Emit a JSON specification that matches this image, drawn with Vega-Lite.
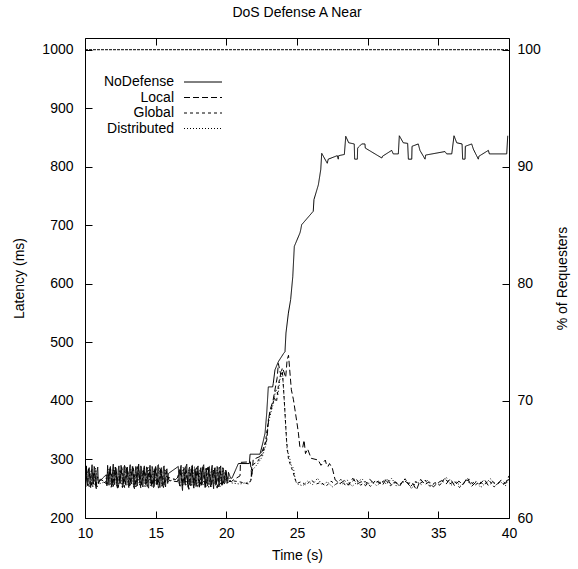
{
"$schema":"https://vega.github.io/schema/vega-lite/v6.json",
"autosize":{"type":"none"},
"padding":{"left":85,"top":38,"right":69,"bottom":51},
"width":424,"height":480,
"title":{"text":"DoS Defense A Near","fontSize":14,"fontWeight":"normal","font":"Liberation Sans","offset":18,"anchor":"middle","color":"black"},
"config":{"view":{"stroke":null},"axis":{"grid":false,"labelFontSize":14,"titleFontSize":14,"titleFontWeight":"normal","labelColor":"black","titleColor":"black","domainColor":"black","tickColor":"black","tickSize":-7,"labelFont":"Liberation Sans","titleFont":"Liberation Sans","labelFlush":false,"format":"d"}},
"datasets":{
"lat":[
{"s":"NoDefense","t":10.0,"v":268},{"s":"NoDefense","t":10.05,"v":253},{"s":"NoDefense","t":10.1,"v":289},{"s":"NoDefense","t":10.15,"v":260},{"s":"NoDefense","t":10.2,"v":255},{"s":"NoDefense","t":10.25,"v":281},{"s":"NoDefense","t":10.3,"v":286},{"s":"NoDefense","t":10.35,"v":262},{"s":"NoDefense","t":10.4,"v":252},{"s":"NoDefense","t":10.45,"v":278},{"s":"NoDefense","t":10.5,"v":291},{"s":"NoDefense","t":10.55,"v":257},{"s":"NoDefense","t":10.6,"v":258},{"s":"NoDefense","t":10.65,"v":288},{"s":"NoDefense","t":10.7,"v":284},{"s":"NoDefense","t":10.75,"v":254},{"s":"NoDefense","t":10.8,"v":250},{"s":"NoDefense","t":10.85,"v":279},{"s":"NoDefense","t":10.9,"v":287},{"s":"NoDefense","t":10.95,"v":259},{"s":"NoDefense","t":11.0,"v":262},
{"s":"NoDefense","t":11.5,"v":274},{"s":"NoDefense","t":11.55,"v":255},{"s":"NoDefense","t":11.6,"v":290},{"s":"NoDefense","t":11.65,"v":266},{"s":"NoDefense","t":11.7,"v":256},{"s":"NoDefense","t":11.75,"v":284},{"s":"NoDefense","t":11.8,"v":288},{"s":"NoDefense","t":11.85,"v":258},{"s":"NoDefense","t":11.9,"v":253},{"s":"NoDefense","t":11.95,"v":280},{"s":"NoDefense","t":12.0,"v":292},{"s":"NoDefense","t":12.05,"v":261},{"s":"NoDefense","t":12.1,"v":257},{"s":"NoDefense","t":12.15,"v":287},{"s":"NoDefense","t":12.2,"v":285},{"s":"NoDefense","t":12.25,"v":255},{"s":"NoDefense","t":12.3,"v":251},{"s":"NoDefense","t":12.35,"v":282},{"s":"NoDefense","t":12.4,"v":289},{"s":"NoDefense","t":12.45,"v":263},{"s":"NoDefense","t":12.5,"v":259},{"s":"NoDefense","t":12.55,"v":290},{"s":"NoDefense","t":12.6,"v":283},{"s":"NoDefense","t":12.65,"v":252},{"s":"NoDefense","t":12.7,"v":254},{"s":"NoDefense","t":12.75,"v":286},{"s":"NoDefense","t":12.8,"v":290},{"s":"NoDefense","t":12.85,"v":260},{"s":"NoDefense","t":12.9,"v":256},{"s":"NoDefense","t":12.95,"v":281},{"s":"NoDefense","t":13.0,"v":287},{"s":"NoDefense","t":13.05,"v":258},{"s":"NoDefense","t":13.1,"v":252},{"s":"NoDefense","t":13.15,"v":285},{"s":"NoDefense","t":13.2,"v":291},{"s":"NoDefense","t":13.25,"v":262},{"s":"NoDefense","t":13.3,"v":258},{"s":"NoDefense","t":13.35,"v":288},{"s":"NoDefense","t":13.4,"v":284},{"s":"NoDefense","t":13.45,"v":253},{"s":"NoDefense","t":13.5,"v":250},{"s":"NoDefense","t":13.55,"v":279},{"s":"NoDefense","t":13.6,"v":288},{"s":"NoDefense","t":13.65,"v":259},{"s":"NoDefense","t":13.7,"v":255},{"s":"NoDefense","t":13.75,"v":286},{"s":"NoDefense","t":13.8,"v":292},{"s":"NoDefense","t":13.85,"v":264},{"s":"NoDefense","t":13.9,"v":260},{"s":"NoDefense","t":13.95,"v":289},{"s":"NoDefense","t":14.0,"v":285},{"s":"NoDefense","t":14.05,"v":256},{"s":"NoDefense","t":14.1,"v":253},{"s":"NoDefense","t":14.15,"v":283},{"s":"NoDefense","t":14.2,"v":289},{"s":"NoDefense","t":14.25,"v":261},{"s":"NoDefense","t":14.3,"v":257},{"s":"NoDefense","t":14.35,"v":287},{"s":"NoDefense","t":14.4,"v":286},{"s":"NoDefense","t":14.45,"v":254},{"s":"NoDefense","t":14.5,"v":251},{"s":"NoDefense","t":14.55,"v":280},{"s":"NoDefense","t":14.6,"v":290},{"s":"NoDefense","t":14.65,"v":262},{"s":"NoDefense","t":14.7,"v":256},{"s":"NoDefense","t":14.75,"v":288},{"s":"NoDefense","t":14.8,"v":283},{"s":"NoDefense","t":14.85,"v":252},{"s":"NoDefense","t":14.9,"v":254},{"s":"NoDefense","t":14.95,"v":284},{"s":"NoDefense","t":15.0,"v":288},{"s":"NoDefense","t":15.05,"v":257},{"s":"NoDefense","t":15.1,"v":259},{"s":"NoDefense","t":15.15,"v":290},{"s":"NoDefense","t":15.2,"v":291},{"s":"NoDefense","t":15.25,"v":260},{"s":"NoDefense","t":15.3,"v":252},{"s":"NoDefense","t":15.35,"v":281},{"s":"NoDefense","t":15.4,"v":286},{"s":"NoDefense","t":15.45,"v":255},{"s":"NoDefense","t":15.5,"v":257},{"s":"NoDefense","t":15.55,"v":287},{"s":"NoDefense","t":15.6,"v":289},{"s":"NoDefense","t":15.65,"v":258},{"s":"NoDefense","t":15.7,"v":253},{"s":"NoDefense","t":15.75,"v":282},{"s":"NoDefense","t":15.8,"v":284},{"s":"NoDefense","t":15.85,"v":259},{"s":"NoDefense","t":15.9,"v":276},
{"s":"NoDefense","t":16.6,"v":288},{"s":"NoDefense","t":16.65,"v":262},{"s":"NoDefense","t":16.7,"v":255},{"s":"NoDefense","t":16.75,"v":284},{"s":"NoDefense","t":16.8,"v":290},{"s":"NoDefense","t":16.85,"v":258},{"s":"NoDefense","t":16.9,"v":247},{"s":"NoDefense","t":16.95,"v":280},{"s":"NoDefense","t":17.0,"v":285},{"s":"NoDefense","t":17.05,"v":260},{"s":"NoDefense","t":17.1,"v":256},{"s":"NoDefense","t":17.15,"v":288},{"s":"NoDefense","t":17.2,"v":292},{"s":"NoDefense","t":17.25,"v":261},{"s":"NoDefense","t":17.3,"v":253},{"s":"NoDefense","t":17.35,"v":283},{"s":"NoDefense","t":17.4,"v":287},{"s":"NoDefense","t":17.45,"v":255},{"s":"NoDefense","t":17.5,"v":258},{"s":"NoDefense","t":17.55,"v":289},{"s":"NoDefense","t":17.6,"v":290},{"s":"NoDefense","t":17.65,"v":259},{"s":"NoDefense","t":17.7,"v":251},{"s":"NoDefense","t":17.75,"v":281},{"s":"NoDefense","t":17.8,"v":284},{"s":"NoDefense","t":17.85,"v":254},{"s":"NoDefense","t":17.9,"v":256},{"s":"NoDefense","t":17.95,"v":286},{"s":"NoDefense","t":18.0,"v":289},{"s":"NoDefense","t":18.05,"v":262},{"s":"NoDefense","t":18.1,"v":253},{"s":"NoDefense","t":18.15,"v":282},{"s":"NoDefense","t":18.2,"v":286},{"s":"NoDefense","t":18.25,"v":256},{"s":"NoDefense","t":18.3,"v":259},{"s":"NoDefense","t":18.35,"v":288},{"s":"NoDefense","t":18.4,"v":291},{"s":"NoDefense","t":18.45,"v":263},{"s":"NoDefense","t":18.5,"v":252},{"s":"NoDefense","t":18.55,"v":280},{"s":"NoDefense","t":18.6,"v":285},{"s":"NoDefense","t":18.65,"v":255},{"s":"NoDefense","t":18.7,"v":257},{"s":"NoDefense","t":18.75,"v":287},{"s":"NoDefense","t":18.8,"v":288},{"s":"NoDefense","t":18.85,"v":258},{"s":"NoDefense","t":18.9,"v":254},{"s":"NoDefense","t":18.95,"v":284},{"s":"NoDefense","t":19.0,"v":290},{"s":"NoDefense","t":19.05,"v":261},{"s":"NoDefense","t":19.1,"v":250},{"s":"NoDefense","t":19.15,"v":279},{"s":"NoDefense","t":19.2,"v":286},{"s":"NoDefense","t":19.25,"v":256},{"s":"NoDefense","t":19.3,"v":258},{"s":"NoDefense","t":19.35,"v":288},{"s":"NoDefense","t":19.4,"v":283},{"s":"NoDefense","t":19.45,"v":253},{"s":"NoDefense","t":19.5,"v":255},{"s":"NoDefense","t":19.55,"v":285},{"s":"NoDefense","t":19.6,"v":289},{"s":"NoDefense","t":19.65,"v":260},{"s":"NoDefense","t":19.7,"v":257},{"s":"NoDefense","t":19.75,"v":286},{"s":"NoDefense","t":19.8,"v":284},{"s":"NoDefense","t":19.85,"v":258},{"s":"NoDefense","t":19.9,"v":260},{"s":"NoDefense","t":19.95,"v":282},{"s":"NoDefense","t":20.0,"v":280},{"s":"NoDefense","t":20.05,"v":259},{"s":"NoDefense","t":20.1,"v":262},{"s":"NoDefense","t":20.15,"v":278},{"s":"NoDefense","t":20.2,"v":275},{"s":"NoDefense","t":20.3,"v":268},
{"s":"NoDefense","t":20.4,"v":268},{"s":"NoDefense","t":20.85,"v":293},{"s":"NoDefense","t":21.63,"v":293},{"s":"NoDefense","t":21.68,"v":309},{"s":"NoDefense","t":22.38,"v":309},{"s":"NoDefense","t":22.6,"v":330},{"s":"NoDefense","t":22.74,"v":345},{"s":"NoDefense","t":22.86,"v":380},{"s":"NoDefense","t":22.97,"v":424},{"s":"NoDefense","t":23.28,"v":424},{"s":"NoDefense","t":23.32,"v":430},{"s":"NoDefense","t":23.44,"v":453},{"s":"NoDefense","t":23.68,"v":467},{"s":"NoDefense","t":24.05,"v":481},{"s":"NoDefense","t":24.15,"v":484},{"s":"NoDefense","t":24.22,"v":516},{"s":"NoDefense","t":24.39,"v":550},{"s":"NoDefense","t":24.55,"v":573},{"s":"NoDefense","t":24.7,"v":612},{"s":"NoDefense","t":24.81,"v":664},{"s":"NoDefense","t":25.21,"v":687},{"s":"NoDefense","t":25.26,"v":692},{"s":"NoDefense","t":25.33,"v":701},{"s":"NoDefense","t":26.15,"v":724},{"s":"NoDefense","t":26.2,"v":744},{"s":"NoDefense","t":26.51,"v":769},{"s":"NoDefense","t":26.68,"v":795},{"s":"NoDefense","t":26.75,"v":823},{"s":"NoDefense","t":27.14,"v":806},{"s":"NoDefense","t":27.21,"v":813},{"s":"NoDefense","t":27.85,"v":819},{"s":"NoDefense","t":27.92,"v":813},{"s":"NoDefense","t":27.95,"v":819},{"s":"NoDefense","t":28.35,"v":821},{"s":"NoDefense","t":28.45,"v":852},{"s":"NoDefense","t":28.66,"v":841},{"s":"NoDefense","t":29.05,"v":839},{"s":"NoDefense","t":29.08,"v":813},{"s":"NoDefense","t":29.27,"v":813},{"s":"NoDefense","t":29.29,"v":832},{"s":"NoDefense","t":29.58,"v":839},{"s":"NoDefense","t":29.81,"v":839},{"s":"NoDefense","t":29.83,"v":832},{"s":"NoDefense","t":31.0,"v":815},{"s":"NoDefense","t":31.05,"v":818},{"s":"NoDefense","t":31.7,"v":828},{"s":"NoDefense","t":31.81,"v":822},{"s":"NoDefense","t":32.17,"v":822},{"s":"NoDefense","t":32.24,"v":853},{"s":"NoDefense","t":32.52,"v":841},{"s":"NoDefense","t":32.83,"v":840},{"s":"NoDefense","t":32.88,"v":813},{"s":"NoDefense","t":33.12,"v":813},{"s":"NoDefense","t":33.14,"v":835},{"s":"NoDefense","t":33.58,"v":839},{"s":"NoDefense","t":33.7,"v":828},{"s":"NoDefense","t":34.06,"v":813},{"s":"NoDefense","t":34.1,"v":820},{"s":"NoDefense","t":35.47,"v":826},{"s":"NoDefense","t":35.59,"v":822},{"s":"NoDefense","t":35.95,"v":822},{"s":"NoDefense","t":36.11,"v":853},{"s":"NoDefense","t":36.3,"v":841},{"s":"NoDefense","t":36.68,"v":839},{"s":"NoDefense","t":36.72,"v":813},{"s":"NoDefense","t":36.89,"v":813},{"s":"NoDefense","t":36.91,"v":835},{"s":"NoDefense","t":37.36,"v":839},{"s":"NoDefense","t":37.48,"v":830},{"s":"NoDefense","t":37.83,"v":813},{"s":"NoDefense","t":37.87,"v":818},{"s":"NoDefense","t":38.54,"v":828},{"s":"NoDefense","t":38.61,"v":822},{"s":"NoDefense","t":39.84,"v":822},{"s":"NoDefense","t":39.91,"v":853},
{"s":"Local","t":10.05,"v":262},{"s":"Local","t":10.25,"v":284},{"s":"Local","t":10.45,"v":256},{"s":"Local","t":10.65,"v":279},{"s":"Local","t":10.85,"v":253},{"s":"Local","t":11.05,"v":266},{"s":"Local","t":11.55,"v":258},{"s":"Local","t":11.75,"v":283},{"s":"Local","t":11.95,"v":255},{"s":"Local","t":12.15,"v":287},{"s":"Local","t":12.35,"v":252},{"s":"Local","t":12.55,"v":281},{"s":"Local","t":12.75,"v":258},{"s":"Local","t":12.95,"v":286},{"s":"Local","t":13.15,"v":254},{"s":"Local","t":13.35,"v":282},{"s":"Local","t":13.55,"v":257},{"s":"Local","t":13.75,"v":288},{"s":"Local","t":13.95,"v":251},{"s":"Local","t":14.15,"v":284},{"s":"Local","t":14.35,"v":259},{"s":"Local","t":14.55,"v":280},{"s":"Local","t":14.75,"v":253},{"s":"Local","t":14.95,"v":285},{"s":"Local","t":15.15,"v":256},{"s":"Local","t":15.35,"v":283},{"s":"Local","t":15.55,"v":252},{"s":"Local","t":15.75,"v":280},{"s":"Local","t":15.95,"v":264},{"s":"Local","t":16.55,"v":262},{"s":"Local","t":16.75,"v":284},{"s":"Local","t":16.95,"v":256},{"s":"Local","t":17.15,"v":281},{"s":"Local","t":17.35,"v":249},{"s":"Local","t":17.55,"v":286},{"s":"Local","t":17.75,"v":255},{"s":"Local","t":17.95,"v":283},{"s":"Local","t":18.15,"v":258},{"s":"Local","t":18.35,"v":287},{"s":"Local","t":18.55,"v":253},{"s":"Local","t":18.75,"v":282},{"s":"Local","t":18.95,"v":257},{"s":"Local","t":19.15,"v":285},{"s":"Local","t":19.35,"v":251},{"s":"Local","t":19.55,"v":280},{"s":"Local","t":19.75,"v":256},{"s":"Local","t":19.95,"v":276},{"s":"Local","t":20.15,"v":264},{"s":"Local","t":20.35,"v":262},
{"s":"Local","t":20.5,"v":265},{"s":"Local","t":20.97,"v":272},{"s":"Local","t":21.0,"v":295},{"s":"Local","t":21.7,"v":296},{"s":"Local","t":21.8,"v":270},{"s":"Local","t":21.9,"v":300},{"s":"Local","t":22.38,"v":305},{"s":"Local","t":22.6,"v":318},{"s":"Local","t":22.86,"v":333},{"s":"Local","t":23.0,"v":370},{"s":"Local","t":23.1,"v":385},{"s":"Local","t":23.3,"v":400},{"s":"Local","t":23.44,"v":419},{"s":"Local","t":23.6,"v":440},{"s":"Local","t":23.68,"v":464},{"s":"Local","t":23.85,"v":445},{"s":"Local","t":24.03,"v":453},{"s":"Local","t":24.2,"v":440},{"s":"Local","t":24.3,"v":470},{"s":"Local","t":24.4,"v":478},{"s":"Local","t":24.6,"v":419},{"s":"Local","t":24.75,"v":402},{"s":"Local","t":25.0,"v":362},{"s":"Local","t":25.1,"v":345},{"s":"Local","t":25.2,"v":322},{"s":"Local","t":25.4,"v":320},{"s":"Local","t":25.5,"v":333},{"s":"Local","t":25.6,"v":310},{"s":"Local","t":25.75,"v":318},{"s":"Local","t":26.0,"v":302},{"s":"Local","t":26.5,"v":299},{"s":"Local","t":26.7,"v":290},{"s":"Local","t":27.0,"v":299},{"s":"Local","t":27.1,"v":290},{"s":"Local","t":27.2,"v":288},{"s":"Local","t":27.3,"v":293},{"s":"Local","t":27.5,"v":285},{"s":"Local","t":27.7,"v":265},{"s":"Local","t":28.05,"v":259},
{"s":"Local","t":28.35,"v":264},{"s":"Local","t":28.65,"v":256},{"s":"Local","t":28.95,"v":268},{"s":"Local","t":29.25,"v":258},{"s":"Local","t":29.55,"v":262},{"s":"Local","t":29.85,"v":255},{"s":"Local","t":30.15,"v":266},{"s":"Local","t":30.45,"v":259},{"s":"Local","t":30.75,"v":263},{"s":"Local","t":31.05,"v":256},{"s":"Local","t":31.35,"v":268},{"s":"Local","t":31.65,"v":257},{"s":"Local","t":31.95,"v":262},{"s":"Local","t":32.25,"v":254},{"s":"Local","t":32.55,"v":265},{"s":"Local","t":32.85,"v":259},{"s":"Local","t":33.15,"v":261},{"s":"Local","t":33.45,"v":248},{"s":"Local","t":33.75,"v":266},{"s":"Local","t":34.05,"v":257},{"s":"Local","t":34.35,"v":262},{"s":"Local","t":34.65,"v":253},{"s":"Local","t":34.95,"v":260},{"s":"Local","t":35.25,"v":264},{"s":"Local","t":35.55,"v":258},{"s":"Local","t":35.85,"v":267},{"s":"Local","t":36.15,"v":255},{"s":"Local","t":36.45,"v":263},{"s":"Local","t":36.75,"v":257},{"s":"Local","t":37.05,"v":269},{"s":"Local","t":37.35,"v":254},{"s":"Local","t":37.65,"v":261},{"s":"Local","t":37.95,"v":258},{"s":"Local","t":38.25,"v":266},{"s":"Local","t":38.55,"v":255},{"s":"Local","t":38.85,"v":262},{"s":"Local","t":39.15,"v":257},{"s":"Local","t":39.45,"v":265},{"s":"Local","t":39.75,"v":259},{"s":"Local","t":40.0,"v":272},
{"s":"Global","t":10.1,"v":278},{"s":"Global","t":10.3,"v":253},{"s":"Global","t":10.5,"v":283},{"s":"Global","t":10.7,"v":257},{"s":"Global","t":10.9,"v":270},{"s":"Global","t":11.6,"v":258},{"s":"Global","t":11.8,"v":285},{"s":"Global","t":12.0,"v":254},{"s":"Global","t":12.2,"v":281},{"s":"Global","t":12.4,"v":258},{"s":"Global","t":12.6,"v":287},{"s":"Global","t":12.8,"v":252},{"s":"Global","t":13.0,"v":284},{"s":"Global","t":13.2,"v":256},{"s":"Global","t":13.4,"v":289},{"s":"Global","t":13.6,"v":253},{"s":"Global","t":13.8,"v":282},{"s":"Global","t":14.0,"v":258},{"s":"Global","t":14.2,"v":286},{"s":"Global","t":14.4,"v":254},{"s":"Global","t":14.6,"v":283},{"s":"Global","t":14.8,"v":257},{"s":"Global","t":15.0,"v":288},{"s":"Global","t":15.2,"v":251},{"s":"Global","t":15.4,"v":284},{"s":"Global","t":15.6,"v":256},{"s":"Global","t":15.8,"v":270},{"s":"Global","t":16.5,"v":265},{"s":"Global","t":16.7,"v":283},{"s":"Global","t":16.9,"v":255},{"s":"Global","t":17.1,"v":288},{"s":"Global","t":17.3,"v":252},{"s":"Global","t":17.5,"v":283},{"s":"Global","t":17.7,"v":259},{"s":"Global","t":17.9,"v":286},{"s":"Global","t":18.1,"v":251},{"s":"Global","t":18.3,"v":284},{"s":"Global","t":18.5,"v":257},{"s":"Global","t":18.7,"v":289},{"s":"Global","t":18.9,"v":253},{"s":"Global","t":19.1,"v":282},{"s":"Global","t":19.3,"v":258},{"s":"Global","t":19.5,"v":287},{"s":"Global","t":19.7,"v":254},{"s":"Global","t":19.9,"v":278},{"s":"Global","t":20.1,"v":260},{"s":"Global","t":20.3,"v":264},
{"s":"Global","t":20.9,"v":262},{"s":"Global","t":21.6,"v":258},{"s":"Global","t":21.75,"v":265},{"s":"Global","t":21.8,"v":290},{"s":"Global","t":22.2,"v":296},{"s":"Global","t":22.6,"v":312},{"s":"Global","t":22.8,"v":335},{"s":"Global","t":23.0,"v":372},{"s":"Global","t":23.2,"v":388},{"s":"Global","t":23.4,"v":405},{"s":"Global","t":23.55,"v":398},{"s":"Global","t":23.7,"v":430},{"s":"Global","t":23.85,"v":446},{"s":"Global","t":23.95,"v":455},{"s":"Global","t":24.05,"v":420},{"s":"Global","t":24.15,"v":380},{"s":"Global","t":24.27,"v":330},{"s":"Global","t":24.4,"v":300},{"s":"Global","t":24.5,"v":293},{"s":"Global","t":24.7,"v":280},{"s":"Global","t":24.85,"v":268},{"s":"Global","t":24.98,"v":259},
{"s":"Global","t":25.3,"v":262},{"s":"Global","t":25.65,"v":256},{"s":"Global","t":26.0,"v":265},{"s":"Global","t":26.35,"v":258},{"s":"Global","t":26.7,"v":261},{"s":"Global","t":27.05,"v":254},{"s":"Global","t":27.4,"v":263},{"s":"Global","t":27.75,"v":257},{"s":"Global","t":28.1,"v":266},{"s":"Global","t":28.45,"v":255},{"s":"Global","t":28.8,"v":260},{"s":"Global","t":29.15,"v":268},{"s":"Global","t":29.5,"v":256},{"s":"Global","t":29.85,"v":262},{"s":"Global","t":30.2,"v":254},{"s":"Global","t":30.55,"v":264},{"s":"Global","t":30.9,"v":258},{"s":"Global","t":31.25,"v":266},{"s":"Global","t":31.6,"v":255},{"s":"Global","t":31.95,"v":261},{"s":"Global","t":32.3,"v":257},{"s":"Global","t":32.65,"v":267},{"s":"Global","t":33.0,"v":253},{"s":"Global","t":33.35,"v":262},{"s":"Global","t":33.7,"v":259},{"s":"Global","t":34.05,"v":265},{"s":"Global","t":34.4,"v":254},{"s":"Global","t":34.75,"v":260},{"s":"Global","t":35.1,"v":256},{"s":"Global","t":35.45,"v":268},{"s":"Global","t":35.8,"v":258},{"s":"Global","t":36.15,"v":263},{"s":"Global","t":36.5,"v":252},{"s":"Global","t":36.85,"v":261},{"s":"Global","t":37.2,"v":266},{"s":"Global","t":37.55,"v":255},{"s":"Global","t":37.9,"v":262},{"s":"Global","t":38.25,"v":257},{"s":"Global","t":38.6,"v":264},{"s":"Global","t":38.95,"v":253},{"s":"Global","t":39.3,"v":261},{"s":"Global","t":39.65,"v":258},{"s":"Global","t":40.0,"v":266},
{"s":"Distributed","t":10.15,"v":256},{"s":"Distributed","t":10.35,"v":281},{"s":"Distributed","t":10.55,"v":252},{"s":"Distributed","t":10.75,"v":285},{"s":"Distributed","t":10.95,"v":258},{"s":"Distributed","t":11.45,"v":262},{"s":"Distributed","t":11.65,"v":283},{"s":"Distributed","t":11.85,"v":252},{"s":"Distributed","t":12.05,"v":286},{"s":"Distributed","t":12.25,"v":255},{"s":"Distributed","t":12.45,"v":282},{"s":"Distributed","t":12.65,"v":251},{"s":"Distributed","t":12.85,"v":288},{"s":"Distributed","t":13.05,"v":257},{"s":"Distributed","t":13.25,"v":283},{"s":"Distributed","t":13.45,"v":253},{"s":"Distributed","t":13.65,"v":287},{"s":"Distributed","t":13.85,"v":256},{"s":"Distributed","t":14.05,"v":281},{"s":"Distributed","t":14.25,"v":252},{"s":"Distributed","t":14.45,"v":288},{"s":"Distributed","t":14.65,"v":255},{"s":"Distributed","t":14.85,"v":282},{"s":"Distributed","t":15.05,"v":258},{"s":"Distributed","t":15.25,"v":286},{"s":"Distributed","t":15.45,"v":253},{"s":"Distributed","t":15.65,"v":284},{"s":"Distributed","t":15.85,"v":262},{"s":"Distributed","t":16.55,"v":268},{"s":"Distributed","t":16.75,"v":253},{"s":"Distributed","t":16.95,"v":287},{"s":"Distributed","t":17.15,"v":257},{"s":"Distributed","t":17.35,"v":282},{"s":"Distributed","t":17.55,"v":254},{"s":"Distributed","t":17.75,"v":288},{"s":"Distributed","t":17.95,"v":252},{"s":"Distributed","t":18.15,"v":283},{"s":"Distributed","t":18.35,"v":256},{"s":"Distributed","t":18.55,"v":286},{"s":"Distributed","t":18.75,"v":251},{"s":"Distributed","t":18.95,"v":284},{"s":"Distributed","t":19.15,"v":258},{"s":"Distributed","t":19.35,"v":282},{"s":"Distributed","t":19.55,"v":253},{"s":"Distributed","t":19.75,"v":285},{"s":"Distributed","t":19.95,"v":262},{"s":"Distributed","t":20.15,"v":270},{"s":"Distributed","t":20.35,"v":260},
{"s":"Distributed","t":20.95,"v":258},{"s":"Distributed","t":21.7,"v":262},{"s":"Distributed","t":21.85,"v":282},{"s":"Distributed","t":22.2,"v":292},{"s":"Distributed","t":22.55,"v":305},{"s":"Distributed","t":22.8,"v":325},{"s":"Distributed","t":22.95,"v":360},{"s":"Distributed","t":23.15,"v":380},{"s":"Distributed","t":23.35,"v":398},{"s":"Distributed","t":23.5,"v":420},{"s":"Distributed","t":23.65,"v":410},{"s":"Distributed","t":23.8,"v":438},{"s":"Distributed","t":23.98,"v":447},{"s":"Distributed","t":24.1,"v":400},{"s":"Distributed","t":24.2,"v":356},{"s":"Distributed","t":24.3,"v":316},{"s":"Distributed","t":24.45,"v":305},{"s":"Distributed","t":24.6,"v":290},{"s":"Distributed","t":24.75,"v":285},{"s":"Distributed","t":24.9,"v":262},{"s":"Distributed","t":25.05,"v":258},
{"s":"Distributed","t":25.4,"v":255},{"s":"Distributed","t":25.75,"v":263},{"s":"Distributed","t":26.1,"v":257},{"s":"Distributed","t":26.45,"v":268},{"s":"Distributed","t":26.8,"v":256},{"s":"Distributed","t":27.15,"v":262},{"s":"Distributed","t":27.5,"v":253},{"s":"Distributed","t":27.85,"v":260},{"s":"Distributed","t":28.2,"v":258},{"s":"Distributed","t":28.55,"v":265},{"s":"Distributed","t":28.9,"v":254},{"s":"Distributed","t":29.25,"v":261},{"s":"Distributed","t":29.6,"v":267},{"s":"Distributed","t":29.95,"v":257},{"s":"Distributed","t":30.3,"v":262},{"s":"Distributed","t":30.65,"v":255},{"s":"Distributed","t":31.0,"v":263},{"s":"Distributed","t":31.35,"v":258},{"s":"Distributed","t":31.7,"v":268},{"s":"Distributed","t":32.05,"v":254},{"s":"Distributed","t":32.4,"v":260},{"s":"Distributed","t":32.75,"v":264},{"s":"Distributed","t":33.1,"v":250},{"s":"Distributed","t":33.45,"v":262},{"s":"Distributed","t":33.8,"v":257},{"s":"Distributed","t":34.15,"v":266},{"s":"Distributed","t":34.5,"v":255},{"s":"Distributed","t":34.85,"v":261},{"s":"Distributed","t":35.2,"v":259},{"s":"Distributed","t":35.55,"v":270},{"s":"Distributed","t":35.9,"v":256},{"s":"Distributed","t":36.25,"v":262},{"s":"Distributed","t":36.6,"v":254},{"s":"Distributed","t":36.95,"v":265},{"s":"Distributed","t":37.3,"v":258},{"s":"Distributed","t":37.65,"v":263},{"s":"Distributed","t":38.0,"v":252},{"s":"Distributed","t":38.35,"v":260},{"s":"Distributed","t":38.7,"v":267},{"s":"Distributed","t":39.05,"v":256},{"s":"Distributed","t":39.4,"v":262},{"s":"Distributed","t":39.75,"v":255},{"s":"Distributed","t":40.0,"v":270}
],
"req":[{"t":10,"p":100},{"t":40,"p":100}]
},
"layer":[
{"data":{"name":"lat"},
 "mark":{"type":"line","color":"black","strokeWidth":1,"clip":true},
 "encoding":{
  "x":{"field":"t","type":"quantitative","scale":{"domain":[10,40],"nice":false},"axis":{"orient":"bottom","title":"Time (s)","values":[10,15,20,25,30,35,40],"labelPadding":15,"titlePadding":8}},
  "y":{"field":"v","type":"quantitative","scale":{"domain":[200,1020],"nice":false,"zero":false},"axis":{"orient":"left","title":"Latency (ms)","values":[200,300,400,500,600,700,800,900,1000],"labelPadding":19,"titlePadding":15}},
  "strokeDash":{"field":"s","type":"nominal","scale":{"domain":["NoDefense","Local","Global","Distributed"],"range":[[1,0],[6,3],[3,3],[1,2]]},
   "legend":{"title":null,"orient":"none","legendX":111,"legendY":37,"symbolType":"M-3.8,0H3.8","symbolSize":100,"symbolStrokeWidth":1,"symbolStrokeColor":"black","labelAlign":"right","labelOffset":-36,"labelFontSize":14,"labelFont":"Liberation Sans","labelColor":"black","rowPadding":1.5}},
  "detail":{"field":"s"}
 }},
{"data":{"name":"req"},
 "mark":{"type":"line","color":"black","strokeWidth":1,"strokeDash":[3,1]},
 "encoding":{
  "x":{"field":"t","type":"quantitative","scale":{"domain":[10,40],"nice":false},"axis":{"orient":"top","labels":false,"title":null,"values":[10,15,20,25,30,35,40]}},
  "y":{"field":"p","type":"quantitative","scale":{"domain":[60,101],"nice":false,"zero":false},"axis":{"orient":"right","title":"% of Requesters","titleAngle":270,"values":[60,70,80,90,100],"labelPadding":15,"titlePadding":29}}
 }}
],
"resolve":{"scale":{"y":"independent"}}
}
